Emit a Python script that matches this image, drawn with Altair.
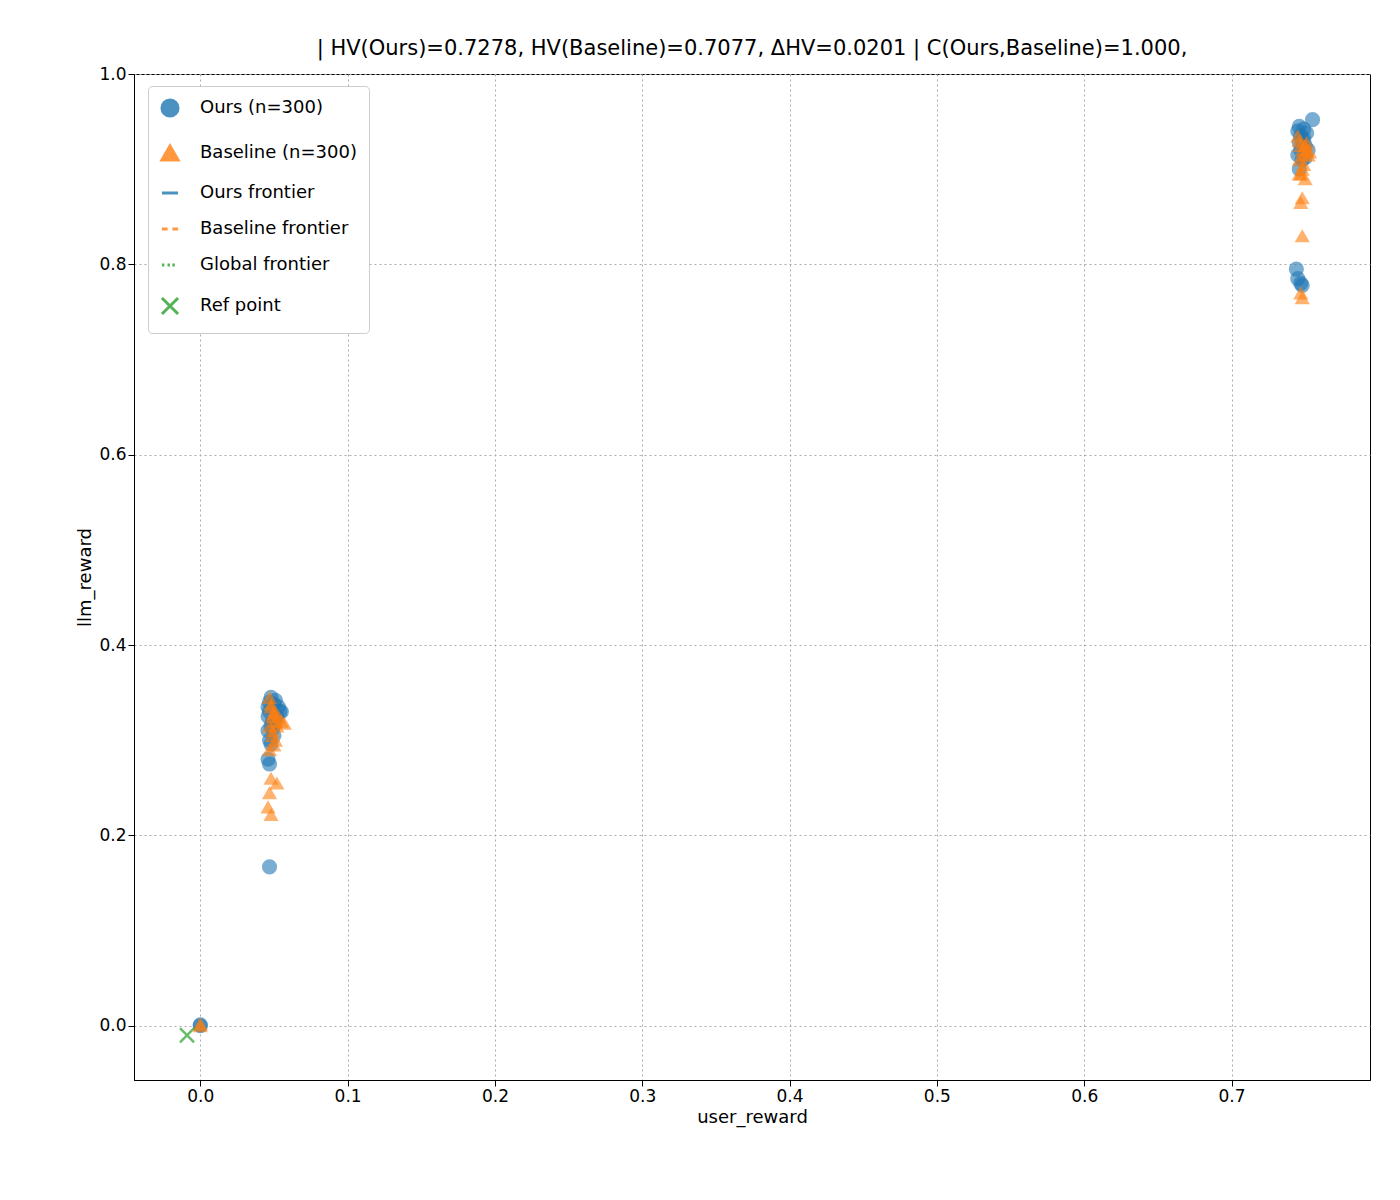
import altair as alt
import pandas as pd

# Ours points (user_reward, llm_reward)
ours_x = [0.0, 0.0, 0.046, 0.047, 0.047, 0.048, 0.049, 0.050, 0.051, 0.052, 0.053, 0.054, 0.046,
          0.047, 0.048, 0.046, 0.047, 0.050, 0.055, 0.047, 0.046, 0.049, 0.051, 0.048,
          0.745, 0.746, 0.747, 0.748, 0.749, 0.750, 0.751, 0.752, 0.755, 0.745, 0.746, 0.748,
          0.746, 0.747, 0.749, 0.750, 0.744, 0.745, 0.747, 0.748]
ours_y = [0.0, 0.001, 0.335, 0.340, 0.330, 0.345, 0.320, 0.338, 0.342, 0.325, 0.335, 0.330, 0.310,
          0.300, 0.315, 0.280, 0.275, 0.305, 0.330, 0.167, 0.325, 0.312, 0.318, 0.296,
          0.940, 0.945, 0.935, 0.930, 0.942, 0.925, 0.938, 0.920, 0.952, 0.915, 0.900, 0.910,
          0.928, 0.920, 0.932, 0.912, 0.795, 0.785, 0.780, 0.778]
base_x = [0.0, 0.0, 0.047, 0.048, 0.049, 0.050, 0.051, 0.052, 0.053, 0.055, 0.057, 0.049, 0.050,
          0.051, 0.047, 0.048, 0.052, 0.047, 0.046, 0.048, 0.048, 0.049, 0.050, 0.047,
          0.745, 0.746, 0.747, 0.748, 0.749, 0.750, 0.751, 0.752, 0.753, 0.748, 0.747, 0.750,
          0.746, 0.748, 0.747, 0.748, 0.747, 0.748, 0.746, 0.749, 0.751]
base_y = [0.0, 0.002, 0.345, 0.335, 0.325, 0.330, 0.320, 0.315, 0.325, 0.320, 0.318, 0.305, 0.295,
          0.300, 0.290, 0.260, 0.255, 0.245, 0.230, 0.222, 0.338, 0.310, 0.328, 0.315,
          0.935, 0.930, 0.925, 0.920, 0.915, 0.925, 0.920, 0.915, 0.918, 0.900, 0.895, 0.890,
          0.895, 0.870, 0.865, 0.830, 0.770, 0.765, 0.910, 0.905, 0.928]
ref_x = [-0.009]
ref_y = [-0.01]

labels = ["Ours (n=300)", "Baseline (n=300)", "Ours frontier", "Baseline frontier",
          "Global frontier", "Ref point"]
colors = ["#1f77b4", "#ff7f0e", "#1f77b4", "#ff7f0e", "#2ca02c", "#2ca02c"]
xpath = "M-1,-1L1,1M-1,1L1,-1"
shapes = ["circle", "triangle-up", "M-1,0L1,0", "M-1,0L-0.3,0M0.3,0L1,0",
          "M-1,0L-0.7,0M-0.3,0L0,0M0.3,0L0.6,0", xpath]

pts = pd.concat([
    pd.DataFrame({"x": ours_x, "y": ours_y, "s": labels[0]}),
    pd.DataFrame({"x": base_x, "y": base_y, "s": labels[1]}),
])
ref = pd.DataFrame({"x": ref_x, "y": ref_y, "s": labels[5]})
dummy = pd.DataFrame({"x": [None] * 3, "y": [None] * 3, "s": labels[2:5]})

font = "DejaVu Sans"
xs = alt.Scale(domain=[-0.045, 0.794], nice=False, zero=False)
ys = alt.Scale(domain=[-0.057, 1.0], nice=False, zero=False)
col = alt.Color("s:N", scale=alt.Scale(domain=labels, range=colors),
                legend=alt.Legend(title=None, orient="none", legendX=14, legendY=12,
                                  labelFontSize=18, labelFont=font, symbolSize=260,
                                  symbolStrokeWidth=3, rowPadding=17, padding=12,
                                  labelOffset=20, symbolOpacity=0.8,
                                  strokeColor="#cccccc", fillColor="white", cornerRadius=4))
shp = alt.Shape("s:N", scale=alt.Scale(domain=labels, range=shapes))

X = alt.X("x:Q", scale=xs, title="user_reward",
          axis=alt.Axis(values=[0, 0.1, 0.2, 0.3, 0.4, 0.5, 0.6, 0.7], format=".1f"))
Y = alt.Y("y:Q", scale=ys, title="llm_reward",
          axis=alt.Axis(values=[0, 0.2, 0.4, 0.6, 0.8, 1.0], format=".1f"))

p = alt.Chart(pts).mark_point(filled=True, size=230, opacity=0.6).encode(
    x=X, y=Y, color=col, shape=shp)
r = alt.Chart(ref).mark_point(size=200, strokeWidth=2.5, filled=False).encode(
    x=X, y=Y, color=col, shape=shp)
d = alt.Chart(dummy).mark_point(opacity=0).encode(x=X, y=Y, color=col, shape=shp)

chart = alt.layer(p, r, d).properties(
    width=1236, height=1006,
    padding={"left": 68, "top": 30, "right": 5, "bottom": 5},
    title=alt.TitleParams("| HV(Ours)=0.7278, HV(Baseline)=0.7077, ΔHV=0.0201 | C(Ours,Baseline)=1.000,",
                          fontSize=21, font=font, fontWeight="normal", offset=6),
).configure_axis(
    labelFontSize=17, titleFontSize=18, labelFont=font, titleFont=font,
    titleFontWeight="normal", gridDash=[2, 3], gridColor="#aaaaaa", domainColor="black",
    tickColor="black", labelColor="black", tickSize=6,
).configure_view(stroke="black")

chart.save("out.html", embed_options={"renderer": "svg", "actions": False})
